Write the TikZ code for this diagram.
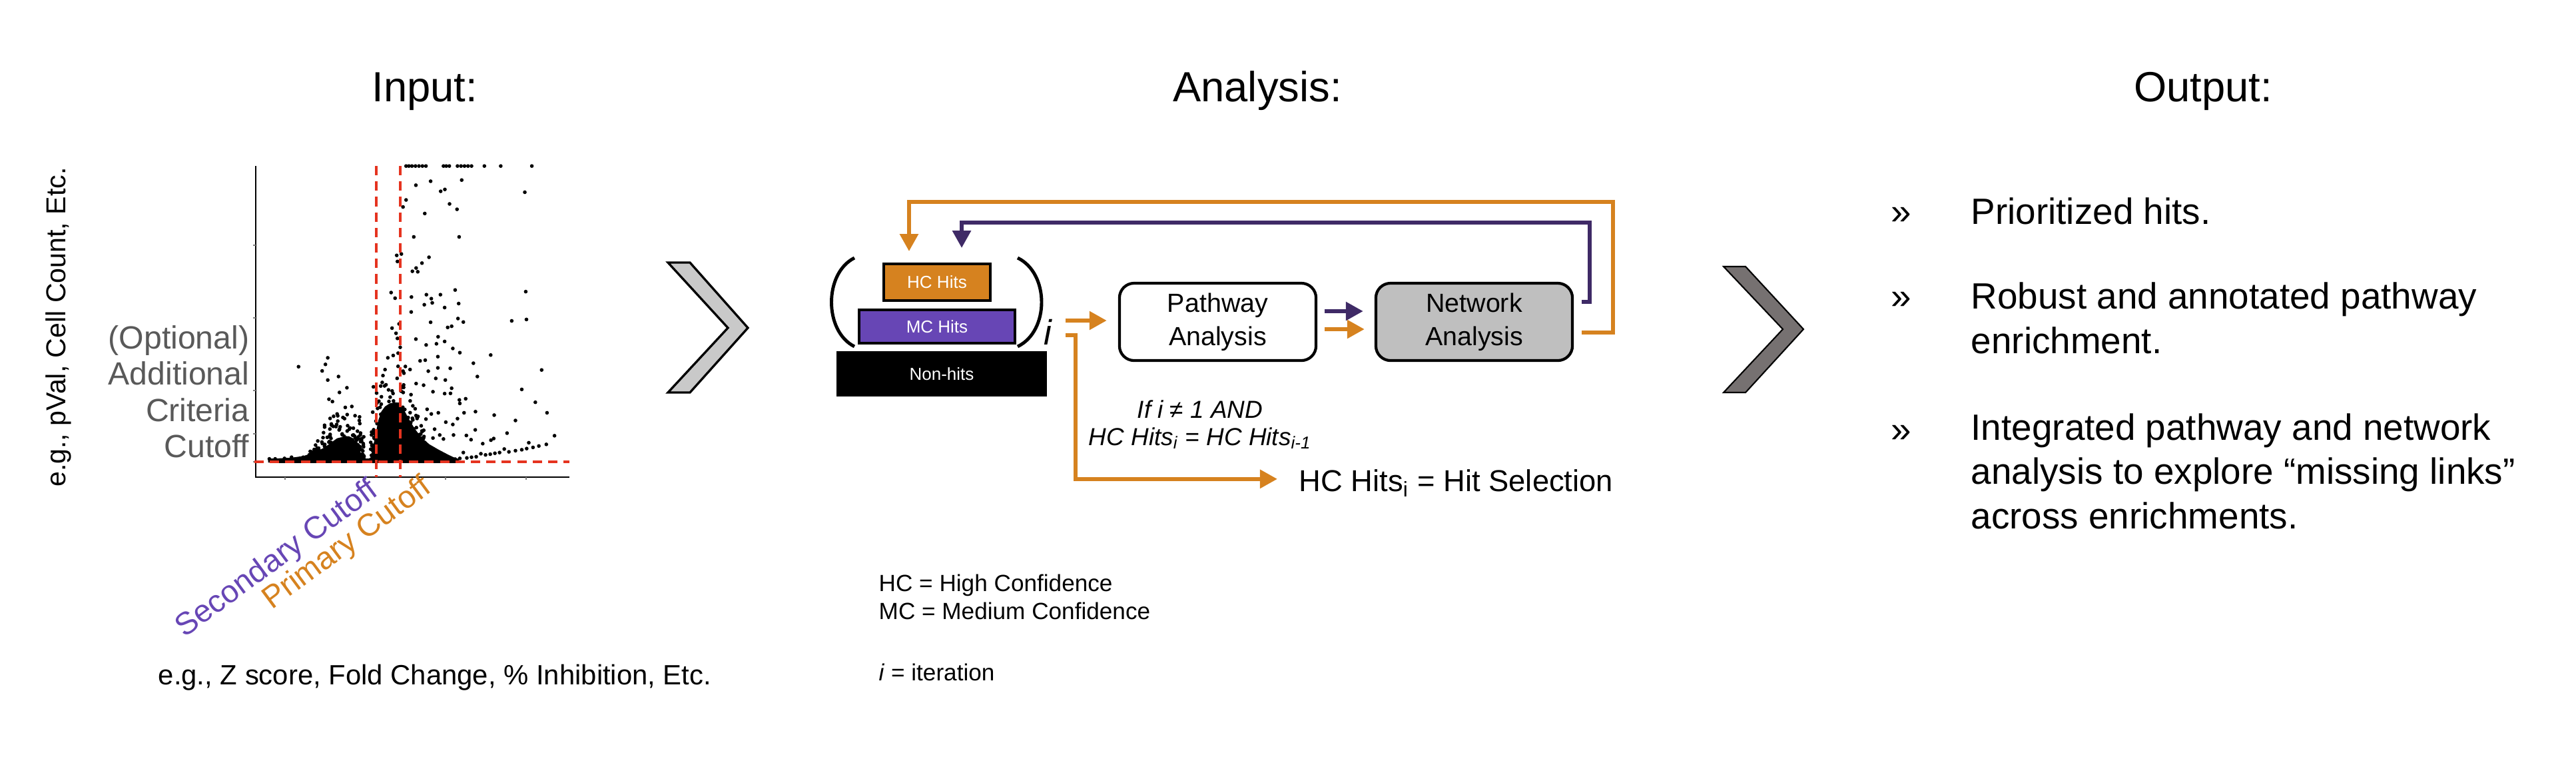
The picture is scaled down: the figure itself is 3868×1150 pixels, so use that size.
\documentclass[tikz,border=0pt]{standalone}
\usepackage{fontspec}
\setmainfont{Liberation Sans}
\usetikzlibrary{arrows.meta}

\definecolor{hcorange}{HTML}{D6821F}
\definecolor{mcpurple}{HTML}{6746B5}
\definecolor{looppurple}{HTML}{3F2A66}
\definecolor{cutred}{HTML}{E5331F}
\definecolor{labgray}{HTML}{595959}
\definecolor{chevlight}{HTML}{C9C9C9}
\definecolor{chevdark}{HTML}{767171}
\definecolor{netgray}{HTML}{BFBFBF}

\tikzset{
  head/.style={font=\fontsize{18}{21}\selectfont, inner sep=0pt},
  hitbox/.style={draw=black, line width=1.1pt, text=white, inner sep=0pt,
    font=\fontsize{7.4}{9}\selectfont},
  anbox/.style={draw=black, line width=1.2pt, rounded corners=0.22cm,
    minimum width=2.95cm, minimum height=1.16cm, align=center, inner sep=0pt,
    font=\fontsize{11.2}{14.2}\selectfont},
  oarr/.style={draw=hcorange, line width=1.7pt, -{Triangle[length=0.26cm,width=0.27cm]}},
  parr/.style={draw=looppurple, line width=1.7pt, -{Triangle[length=0.26cm,width=0.27cm]}},
  cutline/.style={cutred, line width=1pt, dash pattern=on 4pt off 2.6pt},
  cutlab/.style={rotate=36.5, anchor=base west, inner sep=0pt,
    font=\fontsize{13.4}{15}\selectfont},
  outtext/.style={anchor=base west, inner sep=0pt, align=left,
    font=\fontsize{15.6}{18.8}\selectfont},
}

\begin{document}
\begin{tikzpicture}[x=0.01cm,y=-0.01cm]
\useasboundingbox (0,0) rectangle (3868,1150);

\node[head, anchor=base] (inhead) at (638,152) {Input:};
\node[head, anchor=base] (anhead) at (1888,152) {Analysis:};
\node[head, anchor=base] (outhead) at (3308,152) {Output:};

%%%%%%%%%%%%%%%%%%%%%%%%%%%%%%%%%%%%%%%%%
% input: scatter plot

\node[rotate=90, inner sep=0pt, font=\fontsize{11.7}{14}\selectfont] (ylab) at (88,491) {e.g., pVal, Cell Count, Etc.};
\node[anchor=south east, align=right, inner sep=0pt, text=labgray,
  font=\fontsize{13.7}{15.5}\selectfont] (crit) at (375,688) {(Optional)\\Additional\\Criteria\\Cutoff};

\begin{scope}[shift={(350,200)},x=0.03508mm,y=-0.03508mm]
% dense parts
\fill (160,1390) rectangle (965,1410);
\fill (150,1392)--(250,1387)--(300,1380)--(350,1364)--(390,1344)--(420,1322)--(445,1304)--(470,1298)
  --(495,1295)--(515,1305)--(532,1330)--(548,1372)--(560,1404)--(150,1408)--cycle;
\fill (585,1405)--(594,1362)--(604,1315)--(613,1270)--(622,1225)--(634,1190)--(650,1168)--(670,1155)
  --(692,1150)--(712,1152)--(730,1180)--(750,1218)--(775,1260)--(805,1300)--(840,1330)--(880,1353)
  --(920,1374)--(960,1393)--(960,1408)--cycle;
% single hits
\foreach \a/\b in {740/140,752/140,765/140,780/140,795/140,810/140,825/140,900/140,912/140,925/140,
  960/140,975/140,990/140,1005/140,1020/140,1075/140,1145/140,1278/140,
  978/200,845/205,782/222,888/248,906/240,1248/252,740/285,727/315,926/302,958/325,820/343,
  773/443,967/443,700/522,720/516,703/548,838/530,808/555,783/576,767/590,790/592,676/681,
  693/705,763/700,827/690,887/690,848/707,852/725,818/733,950/670,965/728,1252/677,905/745,
  762/764,845/808,962/792,985/807,1192/802,1255/796,710/815,680/833,697/855,703/877,782/880,
  877/870,905/890,918/830,935/825,826/905,870/900,876/955,940/920,970/938,1102/948,662/960,
  685/950,715/915,706/940,280/998,405/960,395/988,381/1016,405/1055,451/1040,455/1108,
  487/1088,410/1137,425/1147,480/1172,508/1168,737/997,757/1010,800/973,822/970,835/1017,
  876/1003,929/1005,1028/983,1045/1040,1320/1012,867/1048,908/1055,727/1017,648/1080,
  665/1097,783/1070,815/1077,855/1105,905/1113,935/1090,930/1112,1235/1095,995/1135,
  970/1155,968/1140,1293/1150,1037/1190,988/1195,1117/1205,1343/1195,960/1220,910/1235,
  940/1245,1208/1228,830/1180,848/1200,878/1195,825/1222,862/1265,1036/1268,1172/1282,
  998/1292,1018/1310,1103/1312,1115/1305,943/1290,900/1307,884/1290,855/1303,1068/1327,
  1375/1293,1265/1323,1340/1330,1308/1337,1283/1343,1256/1348,1235/1353,1208/1357,
  1180/1362,1160/1350,1140/1365,1120/1368,1100/1372,1080/1375,1060/1370,1040/1383,
  1020/1385,1000/1388,985/1365,970/1390,950/1393,430/1210,445/1200,470/1215,443/1245,
  458/1255,490/1250,500/1260,488/1273,515/1290,520/1295,403/1300,380/1320,330/1360,
  300/1385,250/1385,220/1390,180/1392,155/1392}
  \fill (\a,\b) circle (0.8pt);
% cloud round the two peaks
\pgfmathsetseed{2024}
\foreach \k in {1,...,430}{
  \pgfmathsetmacro{\px}{588+262*rnd}
  \pgfmathsetmacro{\dd}{(\px-675)/175}
  \pgfmathsetmacro{\py}{1398-max(0,440*(1-\dd*\dd))*rnd*rnd}
  \fill (\px,\py) circle (0.8pt);
}
\foreach \k in {1,...,280}{
  \pgfmathsetmacro{\px}{320+240*rnd}
  \pgfmathsetmacro{\dd}{(\px-490)/175}
  \pgfmathsetmacro{\py}{1398-max(0,240*(1-\dd*\dd))*rnd*rnd}
  \fill (\px,\py) circle (0.8pt);
}
\end{scope}

\draw[line width=0.8pt] (384,249) -- (384,716) -- (855,716);
\foreach \t in {368,477,586,651,693} \draw[gray, line width=0.4pt] (380,\t) -- (384,\t);
\foreach \t in {428,549,669,790} \draw[gray, line width=0.4pt] (\t,716) -- (\t,720);

\draw[cutline] (382,693) -- (855,693);
\draw[cutline] (565,249) -- (565,716);
\draw[cutline] (601,249) -- (601,716);

\node[cutlab, text=mcpurple] (seclab) at (277,958) {Secondary Cutoff};
\node[cutlab, text=hcorange] (primlab) at (408,916) {Primary Cutoff};

\node[anchor=base, inner sep=0pt, font=\fontsize{11.9}{14}\selectfont] (xlab) at (653,1027) {e.g., Z score, Fold Change, \% Inhibition, Etc.};

%%%%%%%%%%%%%%%%%%%%%%%%%%%%%%%%%%%%%%%%%
% chevrons

\draw[fill=chevlight, line width=0.95pt] (1003,394) -- (1036,394) -- (1123,492) -- (1036,589) -- (1003,589) -- (1093,492) -- cycle;
\draw[fill=chevdark, line width=0.6pt] (2588,400) -- (2621,400) -- (2708,494) -- (2621,589) -- (2588,589) -- (2677,494) -- cycle;

%%%%%%%%%%%%%%%%%%%%%%%%%%%%%%%%%%%%%%%%%
% analysis

\node[hitbox, fill=hcorange, minimum width=1.60cm, minimum height=0.55cm] (hc) at (1407,423.5) {HC Hits};
\node[hitbox, fill=mcpurple, minimum width=2.34cm, minimum height=0.50cm] (mc) at (1407,490) {MC Hits};
\node[hitbox, draw=none, fill=black, minimum width=3.16cm, minimum height=0.68cm] (nonhits) at (1414,561) {Non-hits};

\draw[line width=1.4pt] (1283,387) .. controls (1237,410) and (1237,497) .. (1283,520);
\draw[line width=1.4pt] (1528,387) .. controls (1576,410) and (1576,497) .. (1528,520);
\node[anchor=base, inner sep=0pt, font=\fontsize{15}{18}\selectfont\itshape] (iter) at (1573,517) {i};

\node[anbox, fill=white] (pathway) at (1828.5,483) {Pathway\\Analysis};
\node[anbox, fill=netgray] (network) at (2213.5,483) {Network\\Analysis};

\node[anchor=base west, inner sep=0pt, font=\fontsize{12.9}{15}\selectfont] (sel) at (1950,737) {HC Hits\textsubscript{i} = Hit Selection};
\node[anchor=base, align=center, inner sep=0pt, font=\fontsize{10.5}{11.4}\selectfont\itshape] (cond) at (1802,668) {If i ≠ 1 AND\\HC Hits\textsubscript{i} = HC Hits\textsubscript{i-1}};

\coordinate (loopin) at (1600,481);
\coordinate (hitout) at (1600,503);

\draw[oarr] (loopin) -- ([xshift=-0.17cm,yshift=0.02cm]pathway.west);
\draw[parr, shorten <=0.11cm, shorten >=0.17cm] ([yshift=0.16cm]pathway.east) -- ([yshift=0.16cm]network.west);
\draw[oarr, shorten <=0.11cm, shorten >=0.15cm] ([yshift=-0.11cm]pathway.east) -- ([yshift=-0.11cm]network.west);

\draw[oarr, shorten >=0.17cm] ([xshift=0.12cm,yshift=-0.16cm]network.east) -| (2422,303) -| ([xshift=-0.42cm]hc.north);
\draw[parr, shorten >=0.22cm] ([xshift=0.12cm,yshift=0.30cm]network.east) -| (2387,334) -| ([xshift=0.37cm]hc.north);

\draw[oarr, shorten >=0.32cm] (hitout) -- (1615,503) |- ([yshift=0.06cm]sel.west);

\node[anchor=base west, align=left, inner sep=0pt, font=\fontsize{10}{11.7}\selectfont] (legend) at (1319,929) {HC = High Confidence\\MC = Medium Confidence};
\node[anchor=base west, inner sep=0pt, font=\fontsize{10}{11.7}\selectfont] (iterdef) at (1319,1021) {\textit{i} = iteration};

%%%%%%%%%%%%%%%%%%%%%%%%%%%%%%%%%%%%%%%%%
% output

\node[outtext] (b1) at (2839,336) {»};
\node[outtext] (b2) at (2839,463) {»};
\node[outtext] (b3) at (2839,663) {»};

\node[outtext] (o1) at (2959,336) {Prioritized hits.};
\node[outtext] (o2) at (2959,530) {Robust and annotated pathway\\enrichment.};
\node[outtext] (o3) at (2959,793) {Integrated pathway and network\\analysis to explore “missing links”\\across enrichments.};

\end{tikzpicture}
\end{document}
